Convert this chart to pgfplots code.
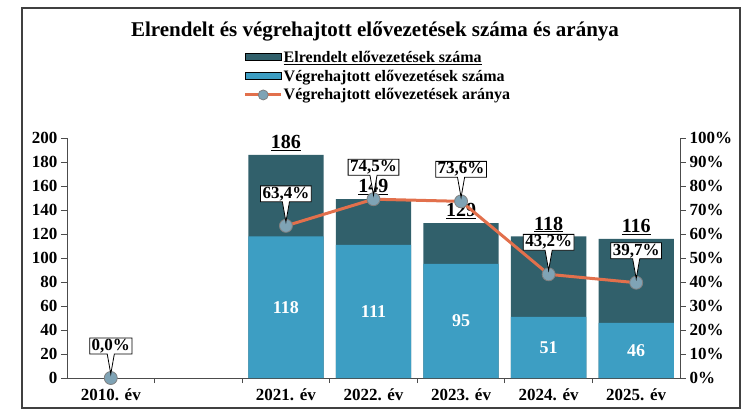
\documentclass[border=0pt]{standalone}
\usepackage{fontspec}
\setmainfont{Liberation Serif}
\usepackage{pgfplots}
\pgfplotsset{compat=1.18}
\usetikzlibrary{shapes.callouts}
\definecolor{sotet}{HTML}{31606B}
\definecolor{vilagos}{HTML}{3D9EC3}
\definecolor{narancs}{HTML}{E2704C}
\definecolor{pont}{HTML}{7FA3B5}

\pgfplotsset{
  common/.style={width=613pt, height=240pt, scale only axis,
    xmin=-0.5, xmax=6.5,
    /pgf/number format/assume math mode=true,
    tick align=outside, major tick length=6pt,
    ticklabel style={font=\fontsize{17}{17}\selectfont\bfseries},
    axis line style={black!70, line width=0.8pt},
    tick style={black!70, line width=0.8pt}},
  oszlop legend/.style={legend image code/.code={%
    \fill[##1] (0pt,-3pt) rectangle (36pt,4pt);}},
  arany legend/.style={legend image code/.code={%
    \draw[mark repeat=2, mark phase=2, ##1, mark size=5pt] plot coordinates {(0pt,0pt) (18pt,0pt) (36pt,0pt)};}},
  szazalek/.style={
    nodes near coords={\pgfmathprintnumber[fixed, fixed zerofill, precision=1, use comma]{\pgfplotspointmeta}\%},
    nodes near coords style={font=\fontsize{17}{17}\selectfont\bfseries, text=black,
      rectangle callout, draw=black, fill=white, line width=0.8pt,
      inner xsep=2pt, inner ysep=1pt,
      callout relative pointer={(0pt,-20pt)}, anchor=center, yshift=32pt}},
}

\begin{document}
\begin{tikzpicture}[font=\bfseries]
% darabszamok
\begin{axis}[common, name=ax,
  ymin=0, ymax=200, ytick={0,20,...,200},
  axis x line*=bottom, axis y line*=left,
  xtick={0,2,3,4,5,6},
  xticklabels={2010. év, 2021. év, 2022. év, 2023. év, 2024. év, 2025. év},
  major x tick style={draw=none},
  minor xtick={0.5,1.5,...,5.5}, minor tick length=5pt,
  xticklabel style={yshift=-1pt}]
\addplot[ybar, bar width=0.86, bar shift=0pt, fill=sotet, draw=none,
  nodes near coords={\underline{\pgfmathprintnumber{\pgfplotspointmeta}}},
  nodes near coords style={font=\fontsize{20}{20}\selectfont\bfseries, text=black,
    inner ysep=1pt, yshift=3pt}]
  coordinates {(2,186) (3,149) (4,129) (5,118) (6,116)};
\addplot[ybar, bar width=0.86, bar shift=0pt, fill=vilagos, draw=none,
  visualization depends on=rawy\as\rawy,
  nodes near coords,
  nodes near coords style={font=\fontsize{18}{18}\selectfont\bfseries, text=white,
    anchor=center, yshift={-0.6*\rawy}}]
  coordinates {(2,118) (3,111) (4,95) (5,51) (6,46)};
\end{axis}
% arany
\begin{axis}[common,
  ymin=0, ymax=100, ytick={0,10,...,100},
  axis y line*=right, axis x line=none,
  yticklabel={\pgfmathprintnumber{\tick}\%},
  legend style={at={(0.288,1.38)}, anchor=north west, draw=none, fill=none,
    font=\fontsize{16}{16}\selectfont\bfseries, row sep=2pt,
    inner xsep=0pt, nodes={inner xsep=1pt}},
  legend cell align=left]
\addlegendimage{oszlop legend, fill=sotet}
\addlegendentry{\underline{Elrendelt elővezetések száma}}
\addlegendimage{oszlop legend, fill=vilagos}
\addlegendentry{Végrehajtott elővezetések száma}
\addplot[narancs, line width=3pt, mark=*, mark size=6.5pt,
  mark options={fill=pont, draw=gray, line width=0.8pt},
  arany legend, szazalek]
  coordinates {(2,63.4) (3,74.5) (4,73.6) (5,43.2) (6,39.7)};
\addlegendentry{Végrehajtott elővezetések aránya}
\addplot[forget plot, only marks, mark=*, mark size=6.5pt,
  mark options={fill=pont, draw=gray, line width=0.8pt}, szazalek]
  coordinates {(0,0)};
\end{axis}
\node[font=\fontsize{21}{21}\selectfont\bfseries] at ([shift={(308pt,347pt)}]ax.south west)
  {Elrendelt és végrehajtott elővezetések száma és aránya};
\draw[line width=1.4pt, black!75] ([shift={(-45pt,-30pt)}]ax.south west) rectangle ([shift={(673pt,370pt)}]ax.south west);
\pgfresetboundingbox
\path ([shift={(-67pt,-32pt)}]ax.south west) rectangle ([shift={(678pt,378pt)}]ax.south west);
\end{tikzpicture}
\end{document}
